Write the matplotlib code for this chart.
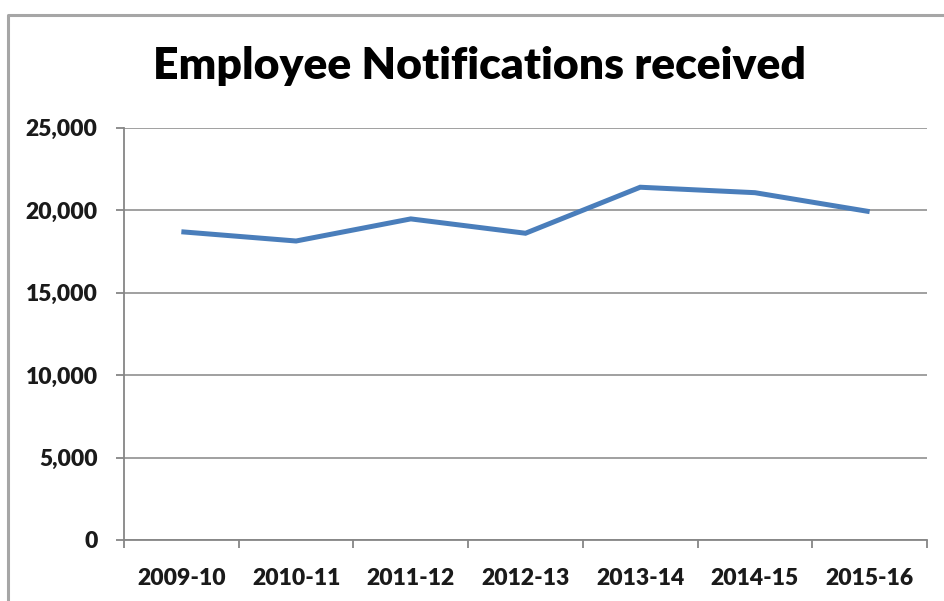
import numpy as np
import matplotlib
matplotlib.use('Agg')
import matplotlib.pyplot as plt
from matplotlib.lines import Line2D
from matplotlib.ticker import FuncFormatter, FixedLocator


years = ['2009-10', '2010-11', '2011-12', '2012-13', '2013-14', '2014-15', '2015-16']
notifications = [18690, 18130, 19470, 18600, 21390, 21060, 19910]
y_ticks = [0, 5000, 10000, 15000, 20000, 25000]

W, H = 945, 601
GRID = '#868686'
TEXT = '#1a1a1a'

plt.rcParams['font.family'] = ['Lato', 'DejaVu Sans']

fig = plt.figure(figsize=(W / 100, H / 100), dpi=100)
fig.patch.set_facecolor('white')

# chart frame (only top and left edges are in view)
fig.add_artist(Line2D([8 / W, 8 / W, 1], [0, 1 - 14.5 / H, 1 - 14.5 / H],
                      transform=fig.transFigure, color='#a6a6a6', lw=2.2))

ax = fig.add_axes([124 / W, 1 - 540 / H, (927 - 124) / W, (540 - 127.7) / H])
x = np.arange(len(years))
ax.plot(x, notifications, color='#4a7ebb', lw=3.6, solid_capstyle='butt',
        solid_joinstyle='miter')

ax.set_xlim(-0.5, len(years) - 0.5)
ax.set_ylim(y_ticks[0], y_ticks[-1])

for s in ['top', 'right']:
    ax.spines[s].set_visible(False)
for s in ['left', 'bottom']:
    ax.spines[s].set_color(GRID)
    ax.spines[s].set_linewidth(1.3)

ax.set_yticks(y_ticks)
ax.yaxis.set_major_formatter(FuncFormatter(lambda v, p: f'{int(v):,}'))
ax.grid(axis='y', color=GRID, lw=1.1)
ax.set_axisbelow(True)

# x ticks sit on category boundaries, labels at centres
ax.xaxis.set_major_locator(FixedLocator(np.arange(len(years) + 1) - 0.5))
ax.xaxis.set_minor_locator(FixedLocator(x))
ax.set_xticklabels([''] * (len(years) + 1))
ax.set_xticklabels(years, minor=True)

ax.tick_params(axis='y', direction='out', length=6, width=1.3, color=GRID,
               pad=13, labelsize=16.5, labelcolor=TEXT)
ax.tick_params(axis='x', which='major', direction='out', length=6, width=1.3,
               color=GRID)
ax.tick_params(axis='x', which='minor', length=0, pad=20, labelsize=16.5,
               labelcolor=TEXT)
for lab in ax.get_yticklabels() + ax.get_xticklabels(minor=True):
    lab.set_fontweight('heavy')

fig.text(480 / W, 1 - 66 / H, 'Employee Notifications received',
         ha='center', va='center', fontsize=32, fontweight='heavy', color='black')

fig.savefig('out.png', dpi=100)
